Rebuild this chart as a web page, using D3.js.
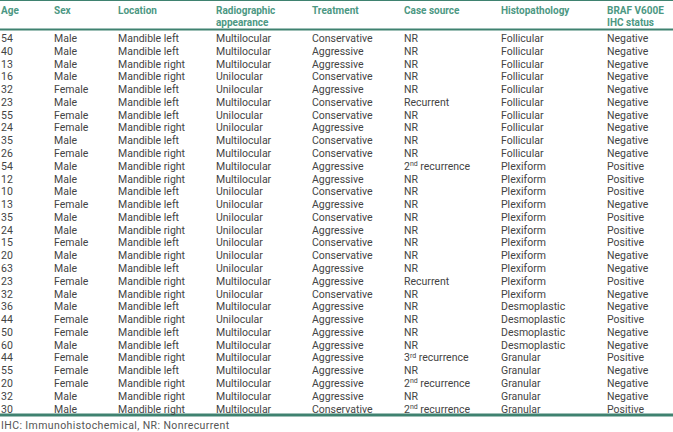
<!DOCTYPE html>
<html>
<head>
<meta charset="utf-8">
<script src="https://cdn.jsdelivr.net/npm/d3@7"></script>
<style>
  body { margin: 0; background: #fff; }
  svg text { font-family: Roboto, "Liberation Sans", sans-serif; }
</style>
</head>
<body>
<svg id="tbl"></svg>
<script>
var width = 673, height = 432;

// column headers (may be two lines)
var headers = [["Age"], ["Sex"], ["Location"], ["Radiographic", "appearance"], ["Treatment"],
    ["Case source"], ["Histopathology"], ["BRAF V600E", "IHC status"]];

var ages = [54, 40, 13, 16, 32, 23, 55, 24, 35, 26, 54, 12, 10, 13, 35, 24, 15, 20, 63, 23, 32, 36, 44, 50, 60, 44, 55, 20, 32, 30];
var sexes = ["Male", "Male", "Male", "Male", "Female", "Male", "Female", "Female", "Male", "Female",
    "Male", "Male", "Male", "Female", "Male", "Male", "Female", "Male", "Male", "Female",
    "Male", "Male", "Female", "Female", "Male", "Female", "Female", "Female", "Male", "Male"];
var locations = ["Mandible left", "Mandible left", "Mandible right", "Mandible right", "Mandible left",
    "Mandible left", "Mandible left", "Mandible right", "Mandible left", "Mandible right",
    "Mandible right", "Mandible right", "Mandible left", "Mandible left", "Mandible left",
    "Mandible right", "Mandible left", "Mandible right", "Mandible left", "Mandible right",
    "Mandible right", "Mandible left", "Mandible right", "Mandible left", "Mandible left",
    "Mandible right", "Mandible left", "Mandible right", "Mandible right", "Mandible right"];
var radiographic = ["Multilocular", "Multilocular", "Multilocular", "Unilocular", "Unilocular",
    "Multilocular", "Unilocular", "Unilocular", "Multilocular", "Multilocular",
    "Multilocular", "Multilocular", "Unilocular", "Unilocular", "Unilocular",
    "Unilocular", "Unilocular", "Unilocular", "Unilocular", "Multilocular",
    "Unilocular", "Multilocular", "Unilocular", "Multilocular", "Multilocular",
    "Multilocular", "Multilocular", "Multilocular", "Multilocular", "Multilocular"];
var treatments = ["Conservative", "Aggressive", "Aggressive", "Conservative", "Aggressive",
    "Conservative", "Conservative", "Aggressive", "Conservative", "Conservative",
    "Aggressive", "Aggressive", "Conservative", "Aggressive", "Conservative",
    "Aggressive", "Conservative", "Conservative", "Aggressive", "Aggressive",
    "Conservative", "Aggressive", "Aggressive", "Aggressive", "Aggressive",
    "Aggressive", "Aggressive", "Aggressive", "Aggressive", "Conservative"];
// case source: [prefix, superscript, rest]
var sources = [["NR"], ["NR"], ["NR"], ["NR"], ["NR"], ["Recurrent"], ["NR"], ["NR"], ["NR"], ["NR"],
    ["2", "nd", " recurrence"], ["NR"], ["NR"], ["NR"], ["NR"], ["NR"], ["NR"], ["NR"], ["NR"], ["Recurrent"],
    ["NR"], ["NR"], ["NR"], ["NR"], ["NR"], ["3", "rd", " recurrence"], ["NR"], ["2", "nd", " recurrence"], ["NR"], ["2", "nd", " recurrence"]];
var histo = ["Follicular", "Follicular", "Follicular", "Follicular", "Follicular",
    "Follicular", "Follicular", "Follicular", "Follicular", "Follicular",
    "Plexiform", "Plexiform", "Plexiform", "Plexiform", "Plexiform",
    "Plexiform", "Plexiform", "Plexiform", "Plexiform", "Plexiform",
    "Plexiform", "Desmoplastic", "Desmoplastic", "Desmoplastic", "Desmoplastic",
    "Granular", "Granular", "Granular", "Granular", "Granular"];
var braf = ["Negative", "Negative", "Negative", "Negative", "Negative",
    "Negative", "Negative", "Negative", "Negative", "Negative",
    "Positive", "Positive", "Positive", "Negative", "Positive",
    "Positive", "Positive", "Negative", "Negative", "Positive",
    "Negative", "Negative", "Positive", "Negative", "Negative",
    "Positive", "Negative", "Negative", "Negative", "Positive"];

var footnote = "IHC: Immunohistochemical, NR: Nonrecurrent";

var colX = [1, 54, 118, 216, 312, 404, 501, 607];
var headColor = "#4c9883", lineColor = "#3f8270", textColor = "#444";

var rowIdx = d3.range(ages.length);
var y = d3.scaleLinear()
    .domain([0, ages.length - 1])
    .range([38, 408.5]);

var svg = d3.select("#tbl")
    .attr("width", width)
    .attr("height", height);

// rules
svg.append("line").attr("x1", 0).attr("x2", width).attr("y1", 0.5).attr("y2", 0.5)
    .attr("stroke", lineColor).attr("stroke-width", 1);
svg.append("line").attr("x1", 0).attr("x2", width).attr("y1", 29.5).attr("y2", 29.5)
    .attr("stroke", lineColor).attr("stroke-width", 2);
svg.append("line").attr("x1", 0).attr("x2", width).attr("y1", 415).attr("y2", 415)
    .attr("stroke", lineColor).attr("stroke-width", 3);

// header
var head = svg.selectAll("text.head")
    .data(headers)
    .enter()
    .append("text")
    .attr("class", "head")
    .attr("x", function (d, i) { return colX[i]; })
    .attr("y", 13.5)
    .attr("fill", headColor)
    .attr("font-weight", "bold")
    .attr("font-size", "10px");
head.selectAll("tspan")
    .data(function (d, i) { return d.map(function (t) { return {t: t, x: colX[i]}; }); })
    .enter()
    .append("tspan")
    .attr("x", function (d) { return d.x; })
    .attr("dy", function (d, j) { return j == 0 ? 0 : 12.5; })
    .text(function (d) { return d.t; });

// body
var columns = [ages, sexes, locations, radiographic, treatments, null, histo, braf];
var rows = svg.selectAll("g.row")
    .data(rowIdx)
    .enter()
    .append("g")
    .attr("class", "row")
    .attr("transform", function (i) { return "translate(0," + y(i) + ")"; });

columns.forEach(function (col, c) {
    if (col == null) return;
    rows.append("text")
        .attr("x", colX[c])
        .attr("y", 4)
        .attr("fill", textColor)
        .attr("font-size", "10.5px")
        .text(function (i) { return col[i]; });
});

// case source with superscripts
var src = rows.append("text")
    .attr("x", colX[5])
    .attr("y", 4)
    .attr("fill", textColor)
    .attr("font-size", "10.5px");
src.each(function (i) {
    var parts = sources[i];
    var t = d3.select(this);
    t.append("tspan").text(parts[0]);
    if (parts.length > 1) {
        t.append("tspan").attr("font-size", "7px").attr("dy", -3.5).text(parts[1]);
        t.append("tspan").attr("dy", 3.5).text(parts[2]);
    }
});

svg.append("text")
    .attr("x", 1)
    .attr("y", 428.5)
    .attr("fill", "#555")
    .attr("font-size", "10.5px")
    .attr("letter-spacing", "0.4px")
    .text(footnote);
</script>
</body>
</html>
